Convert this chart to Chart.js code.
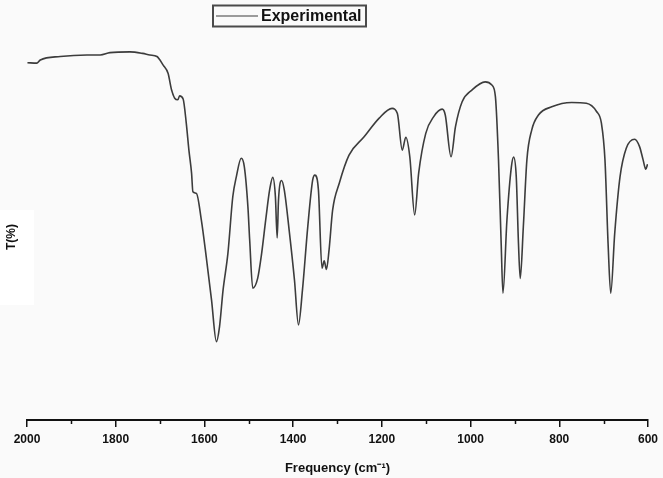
<!DOCTYPE html>
<html>
<head>
<meta charset="utf-8">
<title>IR spectrum</title>
<script src="https://cdn.jsdelivr.net/npm/chart.js@4/dist/chart.umd.min.js"></script>
<style>
  html, body { margin: 0; padding: 0; background: #fafafa; }
  #wrap { position: relative; width: 663px; height: 478px; }
</style>
</head>
<body>
<div id="wrap"><canvas id="irChart" width="663" height="478"></canvas></div>
<script>
// wavenumber (cm-1), left to right
const wavenumbers = [
  1999, 1978, 1970, 1925, 1865, 1835, 1813, 1768, 1739, 1723,
  1707, 1693, 1682, 1674, 1667, 1660, 1656, 1648, 1641, 1635,
  1629, 1626, 1618, 1607, 1596, 1584, 1573, 1566, 1558, 1547,
  1536, 1528, 1517, 1510, 1502, 1498, 1491, 1480, 1472, 1461,
  1453, 1446, 1440, 1436, 1433, 1426, 1420, 1409, 1397, 1388,
  1379, 1367, 1356, 1351, 1343, 1335, 1330, 1325, 1319, 1311,
  1296, 1274, 1240, 1206, 1177, 1165, 1154, 1146, 1137, 1126,
  1117, 1101, 1083, 1064, 1057, 1044, 1034, 1019, 997, 967,
  952, 944, 937, 931, 927, 918, 908, 903, 897, 892,
  888, 881, 873, 862, 847, 817, 772, 739, 716, 705,
  697, 690, 684, 675, 663, 649, 630, 619, 611, 605,
  601
];

// transmittance (arbitrary %, no scale shown on the reference)
const transmittance = [
  91.6, 91.5, 92.3, 93.2, 93.6, 93.6, 94.2, 94.4, 94.0, 93.6,
  93.2, 91.0, 88.9, 84.6, 82.5, 82.1, 83.1, 82.3, 76.2, 69.2,
  63.3, 58.5, 58.1, 51.3, 41.9, 30.8, 20.1, 23.9, 33.3, 42.8,
  57.3, 62.4, 67.1, 64.9, 54.7, 46.2, 33.8, 36.3, 41.9, 52.1,
  59.0, 62.2, 57.3, 46.7, 56.4, 61.4, 59.0, 48.7, 35.9, 24.4,
  33.3, 49.6, 61.5, 62.8, 59.0, 38.9, 40.8, 38.6, 43.6, 53.8,
  60.7, 67.9, 72.6, 77.4, 79.9, 78.6, 69.2, 72.5, 67.5, 52.6,
  63.3, 73.5, 77.8, 79.7, 78.2, 67.5, 75.2, 81.6, 84.6, 86.7,
  85.9, 82.9, 66.7, 45.3, 32.5, 51.3, 64.9, 67.4, 62.4, 45.3,
  36.3, 49.6, 66.7, 74.4, 78.2, 80.3, 81.4, 81.2, 79.1, 76.1,
  66.7, 45.3, 32.5, 47.9, 62.4, 69.7, 72.0, 70.1, 66.7, 64.3,
  65.6
];

const xTicks = [2000, 1800, 1600, 1400, 1200, 1000, 800, 600];
const xMinorTicks = [1900, 1700, 1500, 1300, 1100, 900, 700];

const seriesLabel = "Experimental";
const yTitle = "T(%)";
const lineColor = "#3c3c3c";
const fontFamily = "'Liberation Sans', Arial, Helvetica, sans-serif";

// white patch + rotated y title, sitting a bit below centre like the original
const yTitlePlugin = {
  id: "yTitle",
  beforeDraw(chart) {
    const ctx = chart.ctx;
    ctx.save();
    ctx.fillStyle = "#ffffff";
    ctx.fillRect(0, 210, 34, 95);
    ctx.translate(12, 237);
    ctx.rotate(-Math.PI / 2);
    ctx.fillStyle = "#111";
    ctx.font = `bold 12px ${fontFamily}`;
    ctx.textAlign = "center";
    ctx.textBaseline = "middle";
    ctx.fillText(yTitle, 0, 0);
    ctx.restore();
  }
};

// minor ticks at the odd hundreds, placed through the x scale
const minorTickPlugin = {
  id: "minorTicks",
  afterDraw(chart) {
    const x = chart.scales.x;
    const ctx = chart.ctx;
    const y0 = chart.chartArea.bottom;
    ctx.save();
    ctx.strokeStyle = "#111";
    ctx.lineWidth = 1.5;
    xMinorTicks.forEach((v) => {
      const px = Math.round(x.getPixelForValue(v)) + 0.5;
      ctx.beginPath();
      ctx.moveTo(px, y0);
      ctx.lineTo(px, y0 + 4);
      ctx.stroke();
    });
    ctx.restore();
  }
};

// boxed legend sitting left of centre, as in the reference
const boxLegendPlugin = {
  id: "boxLegend",
  afterDraw(chart) {
    const ctx = chart.ctx;
    const ds = chart.data.datasets[0];
    ctx.save();
    ctx.strokeStyle = "#4a4a4a";
    ctx.lineWidth = 2;
    ctx.strokeRect(213, 5.5, 153, 21);
    ctx.strokeStyle = ds.borderColor;
    ctx.lineWidth = 1.2;
    ctx.beginPath();
    ctx.moveTo(216, 16);
    ctx.lineTo(258, 16);
    ctx.stroke();
    ctx.fillStyle = "#111";
    ctx.font = `bold 16px ${fontFamily}`;
    ctx.textBaseline = "middle";
    ctx.fillText(ds.label, 261, 16.5);
    ctx.restore();
  }
};

const points = wavenumbers.map((w, i) => ({ x: w, y: transmittance[i] }));

new Chart(document.getElementById("irChart"), {
  type: "line",
  data: {
    datasets: [{
      label: seriesLabel,
      data: points,
      borderColor: lineColor,
      borderWidth: 1.6,
      pointRadius: 0,
      fill: false,
      cubicInterpolationMode: "monotone"
    }]
  },
  options: {
    responsive: false,
    animation: false,
    layout: { padding: { top: 30, right: 0, left: 0, bottom: 0 } },
    plugins: {
      legend: { display: false },
      tooltip: { enabled: false }
    },
    scales: {
      x: {
        type: "linear",
        reverse: true,
        min: 600,
        max: 2000,
        afterBuildTicks: (scale) => {
          scale.ticks = xTicks.map((v) => ({ value: v }));
        },
        grid: {
          drawOnChartArea: false,
          drawTicks: true,
          tickLength: 7,
          color: "#111",
          lineWidth: 1.5
        },
        border: { display: true, color: "#111", width: 2 },
        ticks: {
          color: "#111",
          padding: 5,
          maxRotation: 0,
          callback: (v) => String(v),
          font: { family: fontFamily, size: 12, weight: "bold" }
        },
        title: {
          display: true,
          text: "Frequency (cm⁻¹)",
          color: "#111",
          padding: { top: 9, bottom: 2 },
          font: { family: fontFamily, size: 13, weight: "bold" }
        }
      },
      y: {
        min: 0,
        max: 100,
        grid: { display: false },
        border: { display: false },
        ticks: { display: false },
        afterFit: (scale) => { scale.width = 27; },
        title: { display: false }
      }
    }
  },
  plugins: [yTitlePlugin, minorTickPlugin, boxLegendPlugin]
});
</script>
</body>
</html>
